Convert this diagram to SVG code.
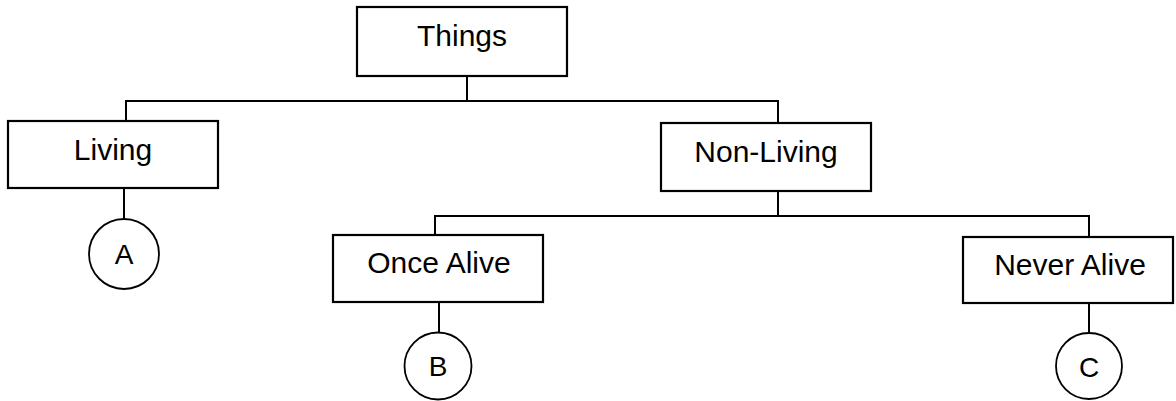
<svg xmlns="http://www.w3.org/2000/svg" width="1176" height="401" viewBox="0 0 1176 401">
<style>
.box{fill:#fff;stroke:#000;stroke-width:2.2}
.lbl{font-family:"Liberation Sans",Arial,sans-serif;font-size:30px;fill:#000;text-anchor:middle}
.circ{fill:#fff;stroke:#000;stroke-width:1.8}
.clbl{font-family:"Liberation Sans",Arial,sans-serif;font-size:28px;fill:#000;text-anchor:middle}
.conn{stroke:#000;stroke-width:2;fill:none}
</style>
<rect width="1176" height="401" fill="#fff"/>
<g id="connectors">
<path class="conn" d="M467,76 V101"/>
<path class="conn" d="M126,121 V101 H778 V123"/>
<path class="conn" d="M778,191 V216"/>
<path class="conn" d="M435,235 V216 H1089 V237"/>
<path class="conn" d="M124,188 V219"/>
<path class="conn" d="M439,302 V332"/>
<path class="conn" d="M1089,303 V333"/>
</g>
<g id="things"><rect class="box" x="357" y="7" width="210" height="69"/><text class="lbl" x="462" y="46">Things</text></g>
<g id="living"><rect class="box" x="8" y="121" width="210" height="67"/><text class="lbl" x="113" y="160">Living</text></g>
<g id="nonliving"><rect class="box" x="661" y="123" width="210" height="68"/><text class="lbl" x="766" y="162">Non-Living</text></g>
<g id="oncealive"><rect class="box" x="333" y="235" width="210" height="67"/><text class="lbl" x="439" y="273">Once Alive</text></g>
<g id="neveralive"><rect class="box" x="963" y="237" width="210" height="66"/><text class="lbl" x="1070" y="275">Never Alive</text></g>
<g id="a"><circle class="circ" cx="124" cy="254" r="35"/><text class="clbl" x="124" y="264">A</text></g>
<g id="b"><circle class="circ" cx="438" cy="366" r="33.5"/><text class="clbl" x="438" y="376">B</text></g>
<g id="c"><circle class="circ" cx="1089" cy="366" r="33"/><text class="clbl" x="1089" y="377">C</text></g>
</svg>
